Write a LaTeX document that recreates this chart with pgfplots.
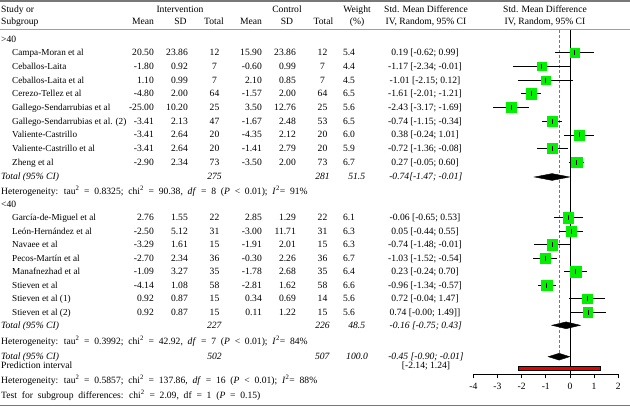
\documentclass[border=0pt]{standalone}
\usepackage{pgfplots}
\pgfplotsset{compat=1.18}
\usepackage{pgfplotstable}
\usepackage{fontspec}
\setmainfont{Liberation Serif}
\definecolor{sqgreen}{RGB}{0,240,0}
\definecolor{rulegray}{RGB}{120,120,120}
\definecolor{pired}{RGB}{235,0,0}

% forest data: SMD, CI, weight, row position (pixels from top)
\pgfplotstableread{
smd lo hi w py
0.19 -0.62 0.99 5.4 52.7
-1.17 -2.34 -0.01 4.4 66.4
-1.01 -2.15 0.12 4.5 80.1
-1.61 -2.01 -1.21 6.5 93.8
-2.43 -3.17 -1.69 5.6 107.5
-0.74 -1.15 -0.34 6.5 121.2
0.38 -0.24 1.01 6.0 134.9
-0.72 -1.36 -0.08 5.9 148.6
0.27 -0.05 0.60 6.7 162.3
-0.06 -0.65 0.53 6.1 217.7
0.05 -0.44 0.55 6.3 231.2
-0.74 -1.48 -0.01 6.3 244.7
-1.03 -1.52 -0.54 6.7 258.2
0.23 -0.24 0.70 6.4 271.7
-0.96 -1.34 -0.57 6.6 285.2
0.72 -0.04 1.47 5.6 298.7
0.74 -0.00 1.49 5.6 312.2
}\studies

\newcommand\Row[9]{%
 \node[L, font=\fontsize{9.2}{11}\selectfont] at (12,#1+3) {#2};
 \node[R] at (154,#1+3) {#3};
 \node[R] at (188,#1+3) {#4};
 \node[C] at (214.5,#1+3) {#5};
 \node[R] at (262,#1+3) {#6};
 \node[R] at (296,#1+3) {#7};
 \node[C] at (322.5,#1+3) {#8};
 \node[C] at (349,#1+3) {#9};}
\newcommand\CI[2]{\node[C] at (425,#1+3) {#2};}
\newcommand\wide{\spaceskip=4.8pt plus 0.5pt\relax}

\begin{document}
\begin{tikzpicture}
\useasboundingbox (0,0) rectangle (630pt,409pt);
\begin{scope}[x=1pt,y=-1pt,yshift=409pt,
  every node/.style={inner sep=0pt, font=\fontsize{9.6}{11}\selectfont},
  L/.style={anchor=base west}, C/.style={anchor=base}, R/.style={anchor=base east}]
 \draw[rulegray, line width=1.6pt] (0,0.8) -- (630,0.8);
 \draw[rulegray!70, line width=0.5pt] (0,29.5) -- (630,29.5);
 \draw[rulegray, line width=1.6pt] (0,405.5) -- (630,405.5);
 % headers
 \node[L] at (1,12.5) {Study or};
 \node[L] at (1,25) {Subgroup};
 \node[C] at (180,12.5) {Intervention};
 \node[C] at (287,12.5) {Control};
 \node[C] at (357,12.5) {Weight};
 \node[C] at (426,12.5) {Std. Mean Difference};
 \node[C] at (545,12.5) {Std. Mean Difference};
 \node[C] at (143,25) {Mean};
 \node[C] at (180.5,25) {SD};
 \node[C] at (214,25) {Total};
 \node[C] at (251,25) {Mean};
 \node[C] at (287,25) {SD};
 \node[C] at (323.5,25) {Total};
 \node[C] at (357,25) {(\%)};
 \node[C] at (426,25) {IV, Random, 95\% CI};
 \node[C] at (545,25) {IV, Random, 95\% CI};
 % group >40
 \node[L] at (1,42.5) {>40};
 \Row{52.7}{Campa-Moran et al}{20.50}{23.86}{12}{15.90}{23.86}{12}{5.4}
 \CI{52.7}{0.19 [-0.62; 0.99]}
 \Row{66.4}{Ceballos-Laita}{-1.80}{0.92}{7}{-0.60}{0.99}{7}{4.4}
 \CI{66.4}{-1.17 [-2.34; -0.01]}
 \Row{80.1}{Ceballos-Laita et al}{1.10}{0.99}{7}{2.10}{0.85}{7}{4.5}
 \CI{80.1}{-1.01 [-2.15; 0.12]}
 \Row{93.8}{Cerezo-Tellez et al}{-4.80}{2.00}{64}{-1.57}{2.00}{64}{6.5}
 \CI{93.8}{-1.61 [-2.01; -1.21]}
 \Row{107.5}{Gallego-Sendarrubias et al}{-25.00}{10.20}{25}{3.50}{12.76}{25}{5.6}
 \CI{107.5}{-2.43 [-3.17; -1.69]}
 \Row{121.2}{Gallego-Sendarrubias et al. (2)}{-3.41}{2.13}{47}{-1.67}{2.48}{53}{6.5}
 \CI{121.2}{-0.74 [-1.15; -0.34]}
 \Row{134.9}{Valiente-Castrillo}{-3.41}{2.64}{20}{-4.35}{2.12}{20}{6.0}
 \CI{134.9}{0.38 [-0.24; 1.01]}
 \Row{148.6}{Valiente-Castrillo et al}{-3.41}{2.64}{20}{-1.41}{2.79}{20}{5.9}
 \CI{148.6}{-0.72 [-1.36; -0.08]}
 \Row{162.3}{Zheng et al}{-2.90}{2.34}{73}{-3.50}{2.00}{73}{6.7}
 \CI{162.3}{0.27 [-0.05; 0.60]}
 \node[L] at (1,180) {\textit{Total (95\% CI)}};
 \node[C] at (214.5,180) {\textit{275}};
 \node[C] at (322.5,180) {\textit{281}};
 \node[C] at (356.7,180) {\textit{51.5}};
 \node[C] at (425.8,180) {\textit{-0.74[-1.47; -0.01]}};
 \node[L] at (1,194.3) {\wide Heterogeneity: tau\textsuperscript{2} = 0.8325; chi\textsuperscript{2} = 90.38, \textit{df} = 8 (\textit{P} < 0.01); \textit{I}\textsuperscript{2}= 91\%};
 % group <40
 \node[L] at (1,207.5) {<40};
 \Row{217.7}{García-de-Miguel et al}{2.76}{1.55}{22}{2.85}{1.29}{22}{6.1}
 \CI{217.7}{-0.06 [-0.65; 0.53]}
 \Row{231.2}{León-Hernández et al}{-2.50}{5.12}{31}{-3.00}{11.71}{31}{6.3}
 \CI{231.2}{0.05 [-0.44; 0.55]}
 \Row{244.7}{Navaee et al}{-3.29}{1.61}{15}{-1.91}{2.01}{15}{6.3}
 \CI{244.7}{-0.74 [-1.48; -0.01]}
 \Row{258.2}{Pecos-Martín et al}{-2.70}{2.34}{36}{-0.30}{2.26}{36}{6.7}
 \CI{258.2}{-1.03 [-1.52; -0.54]}
 \Row{271.7}{Manafnezhad et al}{-1.09}{3.27}{35}{-1.78}{2.68}{35}{6.4}
 \CI{271.7}{0.23 [-0.24; 0.70]}
 \Row{285.2}{Stieven et al}{-4.14}{1.08}{58}{-2.81}{1.62}{58}{6.6}
 \CI{285.2}{-0.96 [-1.34; -0.57]}
 \Row{298.7}{Stieven et al (1)}{0.92}{0.87}{15}{0.34}{0.69}{14}{5.6}
 \CI{298.7}{0.72 [-0.04; 1.47]}
 \Row{312.2}{Stieven et al (2)}{0.92}{0.87}{15}{0.11}{1.22}{15}{5.6}
 \CI{312.2}{0.74 [-0.00; 1.49]]}
 \node[L] at (1,329) {\textit{Total (95\% CI)}};
 \node[C] at (214.5,329) {\textit{227}};
 \node[C] at (322.5,329) {\textit{226}};
 \node[C] at (356.7,329) {\textit{48.5}};
 \node[C] at (425.8,329) {\textit{-0.16 [-0.75; 0.43]}};
 \node[L] at (1,344.3) {\wide Heterogeneity: tau\textsuperscript{2} = 0.3992; chi\textsuperscript{2} = 42.92, \textit{df} = 7 (\textit{P} < 0.01); \textit{I}\textsuperscript{2}= 84\%};
 % overall
 \node[L] at (1,359.3) {\textit{Total (95\% CI)}};
 \node[C] at (214.5,359.3) {\textit{502}};
 \node[C] at (322.5,359.3) {\textit{507}};
 \node[C] at (357,359.3) {\textit{100.0}};
 \node[C] at (426,359.3) {\textit{-0.45 [-0.90; -0.01]}};
 \node[L] at (1,369) {Prediction interval};
 \node[C] at (426,369) {[-2.14; 1.24]};
 \node[L] at (1,383.3) {\wide Heterogeneity: tau\textsuperscript{2} = 0.5857; chi\textsuperscript{2} = 137.86, \textit{df} = 16 (\textit{P} < 0.01); \textit{I}\textsuperscript{2}= 88\%};
 \node[L] at (1,398.3) {\wide Test for subgroup differences: chi\textsuperscript{2} = 2.09, df = 1 (\textit{P} = 0.15)};
\end{scope}

\begin{axis}[at={(473.3pt,35pt)}, anchor=south west, scale only axis,
  width=145pt, height=346pt, xmin=-4, xmax=2, ymin=-374, ymax=-28,
  axis x line=bottom, axis y line=none,
  x axis line style={-, line width=0.7pt},
  xtick={-4,-3,-2,-1,0,1,2}, xticklabels={-4,-3,-2,-1,0,1,2},
  tick align=outside, major tick length=4.5pt,
  tick style={black, line width=0.7pt},
  xticklabel style={font=\fontsize{9.6}{11}\selectfont, yshift=-1pt},
  clip=false]
 \addplot[rulegray, dash pattern=on 3pt off 2pt, line width=0.8pt] coordinates {(-0.45,-30) (-0.45,-357)};
 \addplot[black, line width=0.7pt] coordinates {(0,-30) (0,-374)};
 \addplot[fill=pired, draw=black, line width=0.6pt] coordinates {(-2.14,-366) (1.24,-366) (1.24,-370) (-2.14,-370)} -- cycle;
 \addplot[only marks, mark=square*, scatter,
   visualization depends on={sqrt(\thisrow{w})*2.05 \as \msize},
   scatter/use mapped color={draw=sqgreen, fill=sqgreen, /tikz/mark size=\msize}]
   table[x=smd, y expr=-\thisrow{py}] {\studies};
 \addplot[only marks, black, mark=|, mark size=2.5pt, mark options={line width=0.6pt},
   error bars/.cd, x dir=both, x explicit, error mark=none,
   error bar style={black, line width=0.6pt}]
   table[x=smd, y expr=-\thisrow{py},
     x error plus expr=\thisrow{hi}-\thisrow{smd},
     x error minus expr=\thisrow{smd}-\thisrow{lo}] {\studies};
 \addplot[fill=black, draw=black] coordinates {(-1.47,-177) (-0.74,-173.6) (-0.01,-177) (-0.74,-180.4)} -- cycle;
 \addplot[fill=black, draw=black] coordinates {(-0.75,-325.3) (-0.16,-321.9) (0.43,-325.3) (-0.16,-328.7)} -- cycle;
 \addplot[fill=black, draw=black] coordinates {(-0.90,-356.7) (-0.45,-353.3) (-0.01,-356.7) (-0.45,-360.1)} -- cycle;
\end{axis}
\end{tikzpicture}
\end{document}
